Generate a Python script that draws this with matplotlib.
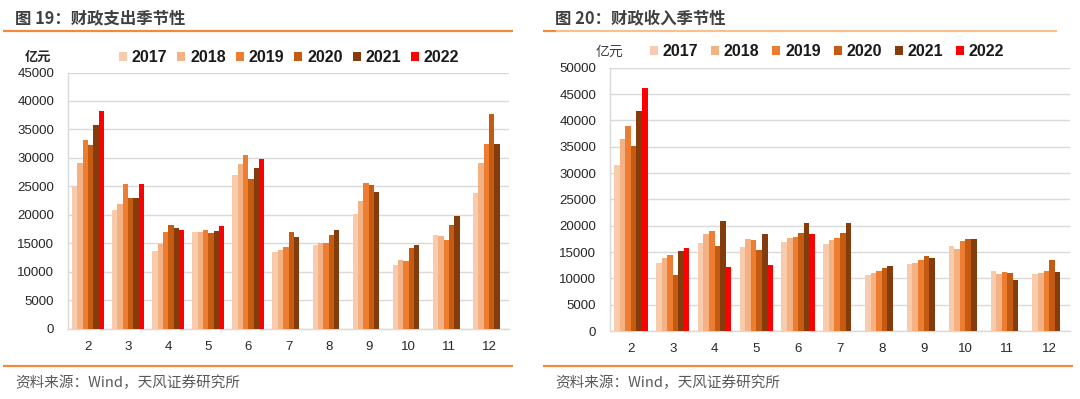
import numpy as np
import matplotlib
matplotlib.use("Agg")
import matplotlib.pyplot as plt
from matplotlib.lines import Line2D

plt.rcParams['font.family'] = ['Liberation Sans', 'Noto Sans CJK SC', 'DejaVu Sans']

months = ['2', '3', '4', '5', '6', '7', '8', '9', '10', '11', '12']
years = ['2017', '2018', '2019', '2020', '2021', '2022']
colors = ['#f8cbad', '#f4b183', '#ed7d31', '#c55a11', '#843c0c', '#ff0000']

nan = np.nan
# 财政支出 (亿元)
exp_2017 = [25000, 20900, 13600, 16900, 27000, 13500, 14600, 20200, 11100, 16400, 23800]
exp_2018 = [29100, 21900, 14800, 16900, 28850, 13850, 15000, 22500, 12050, 16300, 29050]
exp_2019 = [33200, 25350, 17050, 17250, 30450, 14350, 15000, 25650, 11950, 15600, 32400]
exp_2020 = [32200, 22950, 18250, 16700, 26200, 17050, 16450, 25300, 14200, 18250, 37700]
exp_2021 = [35700, 22950, 17600, 17150, 28200, 16150, 17400, 24000, 14600, 19850, 32400]
exp_2022 = [38200, 25350, 17250, 18050, 29800, nan, nan, nan, nan, nan, nan]

# 财政收入 (亿元)
rev_2017 = [31450, 12850, 16700, 16000, 16950, 16500, 10600, 12700, 16150, 11400, 10800]
rev_2018 = [36500, 13900, 18400, 17450, 17650, 17350, 11050, 12850, 15650, 10800, 10950]
rev_2019 = [38950, 14500, 18900, 17200, 17850, 17700, 11400, 13550, 17000, 11250, 11400]
rev_2020 = [35150, 10600, 16200, 15450, 18550, 18550, 12000, 14250, 17550, 10950, 13450]
rev_2021 = [41800, 15200, 20850, 18400, 20550, 20550, 12250, 13800, 17400, 9700, 11250]
rev_2022 = [46200, 15700, 12150, 12450, 18400, nan, nan, nan, nan, nan, nan]

exp_series = [exp_2017, exp_2018, exp_2019, exp_2020, exp_2021, exp_2022]
rev_series = [rev_2017, rev_2018, rev_2019, rev_2020, rev_2021, rev_2022]

W, H = 1080, 399
fig = plt.figure(figsize=(W / 100, H / 100), dpi=100)


def px_axes(x0, y0, x1, y1):
    return fig.add_axes([x0 / W, 1 - y1 / H, (x1 - x0) / W, (y1 - y0) / H])


def hline(x0, x1, y, color, lw=1.6):
    fig.add_artist(Line2D([x0 / W, x1 / W], [1 - y / H, 1 - y / H],
                          transform=fig.transFigure, color=color, lw=lw,
                          solid_capstyle='butt'))


def draw_panel(ax, series, ymax, step):
    n = len(series)
    x = np.arange(len(months))
    group = 0.8
    bw = group / n
    for i, (vals, c, yr) in enumerate(zip(series, colors, years)):
        ax.bar(x - group / 2 + bw * (i + 0.5), vals, width=bw, color=c,
               label=yr, linewidth=0, zorder=3)
    ax.set_xlim(-0.5, len(months) - 0.5)
    ax.set_ylim(0, ymax)
    ax.set_yticks(np.arange(0, ymax + 1, step))
    ax.set_xticks(x)
    ax.set_xticklabels(months)
    ax.yaxis.grid(True, color='#d9d9d9', lw=1.0, zorder=0)
    ax.set_axisbelow(True)
    for s in ['top', 'right']:
        ax.spines[s].set_visible(False)
    for s in ['left', 'bottom']:
        ax.spines[s].set_color('#d9d9d9')
        ax.spines[s].set_linewidth(1.0)
    ax.tick_params(axis='both', length=0, labelsize=9.5, colors='#262626')
    ax.tick_params(axis='x', pad=9)
    ax.tick_params(axis='y', pad=10)


# Left panel: 财政支出
axL = px_axes(68, 72.5, 509, 328.5)
draw_panel(axL, exp_series, 45000, 5000)
# Right panel: 财政收入
axR = px_axes(610, 67.7, 1070, 331)
draw_panel(axR, rev_series, 50000, 5000)

# Titles
fig.text(15 / W, 1 - 18 / H, '图 19：财政支出季节性', fontsize=11.8, fontweight='bold',
         color='#404040', va='center', ha='left', family=['Noto Sans CJK SC'])
fig.text(555 / W, 1 - 18 / H, '图 20：财政收入季节性', fontsize=11.8, fontweight='bold',
         color='#404040', va='center', ha='left', family=['Noto Sans CJK SC'])

# Title underlines
hline(3, 513, 31, '#f08a3c')
hline(543, 556, 31, '#f08a3c')
hline(556, 1057, 31, '#f8c08c')

# Bottom lines
hline(3, 513, 365.5, '#f08a3c')
hline(543, 1073, 365.5, '#f08a3c')

# Sources
fig.text(15 / W, 1 - 383 / H, '资料来源：Wind，天风证券研究所', fontsize=10.5,
         color='#595959', va='center', ha='left', family=['Noto Sans CJK SC'])
fig.text(555 / W, 1 - 383 / H, '资料来源：Wind，天风证券研究所', fontsize=10.5,
         color='#595959', va='center', ha='left', family=['Noto Sans CJK SC'])

# Units
fig.text(38 / W, 1 - 57 / H, '亿元', fontsize=9.5, fontweight='bold', color='#262626',
         va='center', ha='center', family=['Noto Sans CJK SC'])
fig.text(609 / W, 1 - 51.5 / H, '亿元', fontsize=10, color='#404040',
         va='center', ha='center', family=['Noto Sans CJK SC'])

# Legends
legL = axL.legend(loc='center left', bbox_to_anchor=(119 / W, 1 - 58 / H),
                  bbox_transform=fig.transFigure, ncol=6, frameon=False,
                  handlelength=0.5, handleheight=0.5, handletextpad=0.3,
                  columnspacing=0.63, prop={'size': 11.5, 'weight': 'bold'},
                  borderaxespad=0, borderpad=0)
legR = axR.legend(loc='center left', bbox_to_anchor=(650 / W, 1 - 51.5 / H),
                  bbox_transform=fig.transFigure, ncol=6, frameon=False,
                  handlelength=0.5, handleheight=0.5, handletextpad=0.3,
                  columnspacing=0.8, prop={'size': 11.5, 'weight': 'bold'},
                  borderaxespad=0, borderpad=0)
for leg in (legL, legR):
    for t in leg.get_texts():
        t.set_color('#1a1a1a')

fig.savefig('out.png', dpi=100, facecolor='white')
